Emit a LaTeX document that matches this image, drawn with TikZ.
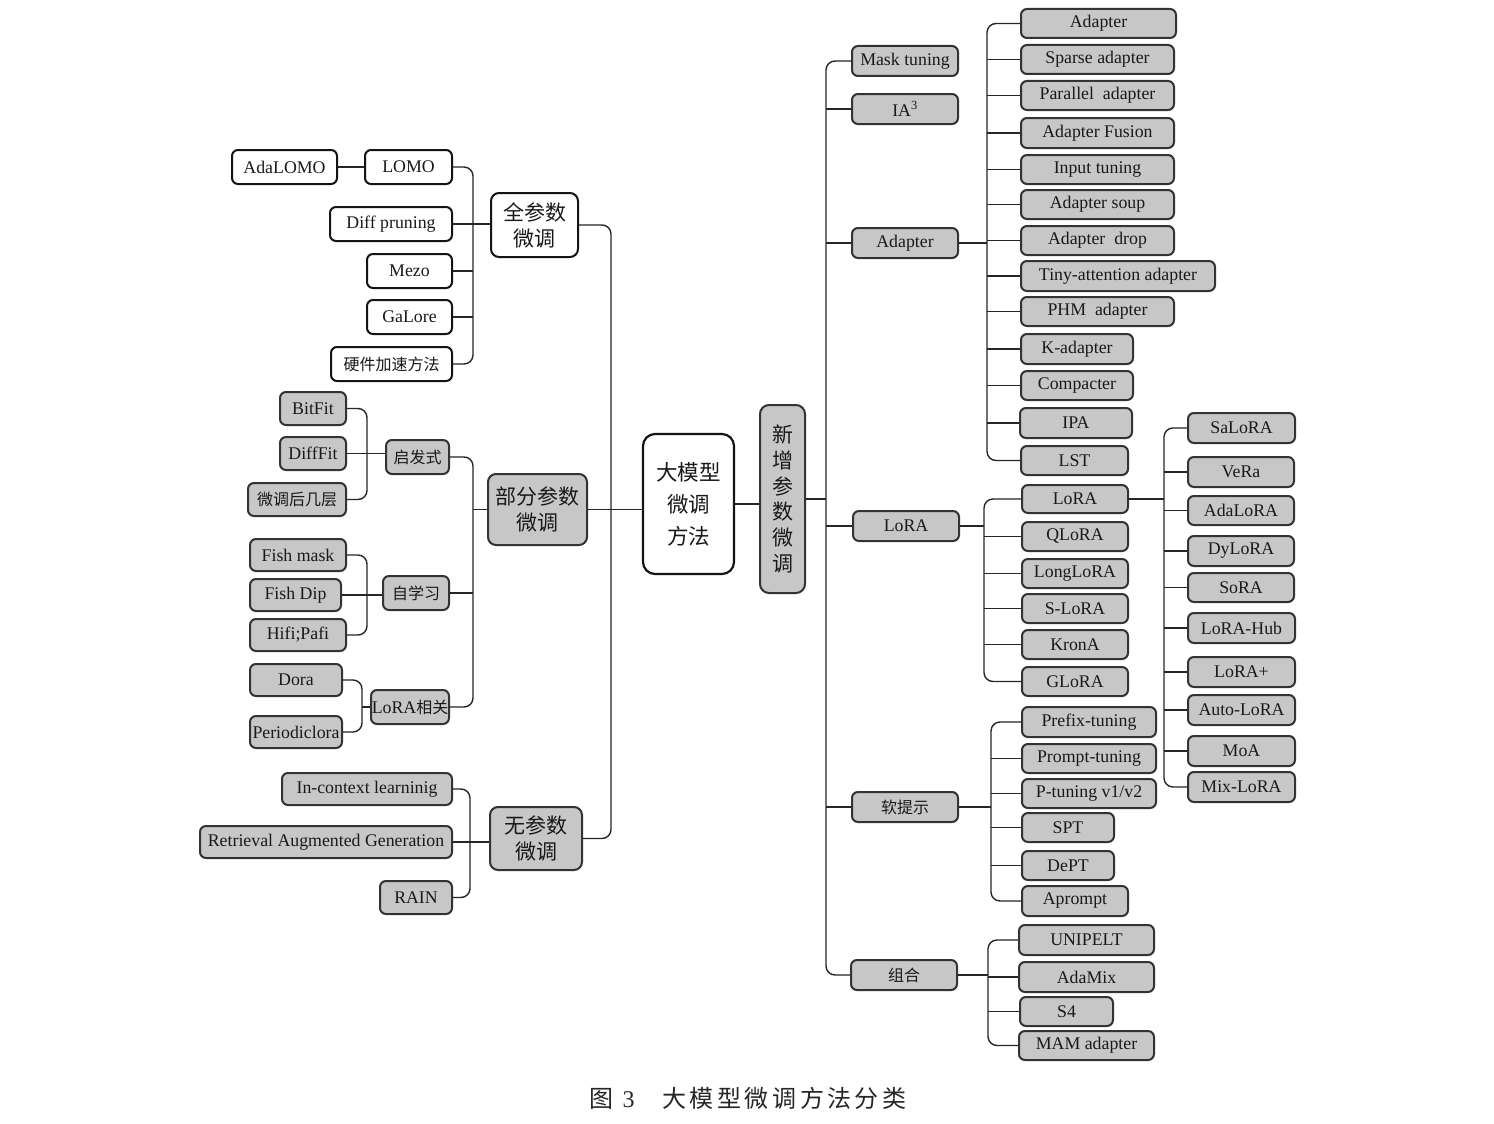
\documentclass[tikz,border=0pt]{standalone}
\usepackage{fontspec}
\setmainfont{Liberation Serif}
\newfontfamily\cjk{Noto Sans CJK SC}
% box from its corner coordinates: style, x1, y1, x2, y2, name, text
\newcommand\bx[7]{\node[#1, minimum width={#4-#2}, minimum height={#5-#3}] (#6) at ({(#2+#4)/2},{(#3+#5)/2}) {#7};}
\newcommand\zhs[1]{{\cjk\fontsize{16}{18}\selectfont #1}}
\begin{document}
\begin{tikzpicture}[x=1pt,y=-1pt,
  box/.style={draw=black!80, line width=2pt, rounded corners=6pt, inner sep=0pt,
    text=black!90, font=\fontsize{17.8}{20}\selectfont},
  wb/.style={box, fill=white, draw=black!92},
  gb/.style={box, fill=black!22},
  big/.style={align=center, font=\cjk\fontsize{21}{26}\selectfont},
  conn/.style={draw=black!85, line width=1.4pt},
  buscurve/.style={conn, rounded corners=9pt}]
\useasboundingbox (0,0) rectangle (1494,1124);
\fill[white] (0,0) rectangle (1494,1124);

% ---------- bus positions ----------
\coordinate (bQ) at (473,0);
\coordinate (bH) at (367,0);
\coordinate (bS) at (367,0);
\coordinate (bL3) at (362,0);
\coordinate (bP) at (473,0);
\coordinate (bW) at (470,0);
\coordinate (bMain) at (611,0);
\coordinate (bR) at (826,0);
\coordinate (bA) at (987,0);
\coordinate (bB) at (984,0);
\coordinate (bC) at (1164,0);
\coordinate (bD) at (991,0);
\coordinate (bE) at (988,0);

% ---------- full-parameter branch ----------
\bx{wb}{232}{150}{337}{184}{adalomo}{AdaLOMO}
\bx{wb}{365}{150}{452}{184}{lomo}{LOMO}
\bx{wb}{330}{207}{452}{241}{diffp}{Diff pruning}
\bx{wb}{367}{254}{452}{288}{mezo}{Mezo}
\bx{wb}{367}{300}{452}{334}{galore}{GaLore}
\bx{wb}{331}{347}{452}{381}{hw}{\zhs{硬件加速方法}}
\bx{wb,big,rounded corners=8pt}{491}{193}{578}{257}{qcs}{全参数\\微调}

\draw[conn] (adalomo) -- (lomo);
\draw[buscurve] (lomo.east) -| (hw.east -| bQ) -- (hw.east);
\draw[conn] (diffp.east) -- (diffp.east -| qcs.west);
\draw[conn] (mezo.east) -- (mezo.east -| bQ);
\draw[conn] (galore.east) -- (galore.east -| bQ);

% ---------- partial-parameter branch ----------
\bx{gb,big,rounded corners=8pt}{488}{474}{587}{545}{bfcs}{部分参数\\微调}
\bx{gb}{386}{440}{449}{474}{qfs}{\zhs{启发式}}
\bx{gb}{280}{392}{346}{425}{bitfit}{BitFit}
\bx{gb}{280}{437}{346}{470}{difffit}{DiffFit}
\bx{gb}{248}{483}{346}{516}{wth}{\zhs{微调后几层}}
\draw[buscurve] (bitfit.east) -| (wth.east -| bH) -- (wth.east);
\draw[conn] (difffit.east) -- (difffit.east -| qfs.west);

\bx{gb}{383}{576}{449}{610}{zxx}{\zhs{自学习}}
\bx{gb}{250}{539}{346}{571}{fmask}{Fish mask}
\bx{gb}{250}{579}{341}{611}{fdip}{Fish Dip}
\bx{gb}{250}{619}{346}{651}{hifi}{Hifi;Pafi}
\draw[buscurve] (fmask.east) -| (hifi.east -| bS) -- (hifi.east);
\draw[conn] (fdip.east) -- (fdip.east -| zxx.west);

\bx{gb}{371}{690}{449}{724}{lorax}{LoRA\zhs{相关}}
\bx{gb}{250}{664}{342}{696}{dora}{Dora}
\bx{gb}{250}{716}{342}{748}{period}{Periodiclora}
\draw[buscurve] (dora.east) -| (period.east -| bL3) -- (period.east);
\draw[conn] (lorax.west) -- (lorax.west -| bL3);

\draw[buscurve] (qfs.east) -| (lorax.east -| bP) -- (lorax.east);
\draw[conn] (zxx.east) -- (zxx.east -| bP);
\draw[conn] (bfcs.west) -- (bfcs.west -| bP);

% ---------- parameter-free branch ----------
\bx{gb,big,rounded corners=8pt}{490}{807}{582}{870}{wcs}{无参数\\微调}
\bx{gb}{282}{773}{452}{805}{icl}{In-context learninig}
\bx{gb}{200}{826}{452}{858}{rag}{Retrieval Augmented Generation}
\bx{gb}{380}{881}{452}{914}{rain}{RAIN}
\draw[buscurve] (icl.east) -| (rain.east -| bW) -- (rain.east);
\draw[conn] (rag.east) -- (rag.east -| wcs.west);

% ---------- root ----------
\bx{wb,line width=2.2pt,rounded corners=12pt,align=center,font=\cjk\fontsize{21.5}{32}\selectfont}{643}{434}{734}{574}{root}{大模型\\微调\\方法}
\bx{gb,rounded corners=9pt,align=center,font=\cjk\fontsize{21}{25.7}\selectfont}{760}{405}{805}{593}{xz}{新\\增\\参\\数\\微\\调}

\draw[buscurve] (qcs.east) -| (wcs.east -| bMain) -- (wcs.east);
\draw[conn] (bfcs.east) -- (bfcs.east -| root.west);
\draw[conn] (root.east) -- (root.east -| xz.west);
\draw[conn] (xz.east) -- (xz.east -| bR);

% ---------- added-parameter branch ----------
\bx{gb}{852}{46}{958}{76}{mask}{Mask tuning}
\bx{gb}{852}{94}{958}{124}{ia}{IA\textsuperscript{3}}
\bx{gb}{852}{228}{958}{258}{adp}{Adapter}
\bx{gb}{853}{511}{959}{541}{lora}{LoRA}
\bx{gb}{852}{792}{958}{822}{soft}{\zhs{软提示}}
\bx{gb}{851}{960}{957}{990}{zh}{\zhs{组合}}
\draw[buscurve] (mask.west) -| (zh.west -| bR) -- (zh.west);
\foreach \n in {ia,adp,lora,soft} \draw[conn] (\n.west) -- (\n.west -| bR);

% adapter family
\bx{gb}{1021}{9}{1176}{38}{a1}{Adapter}
\bx{gb}{1021}{45}{1174}{74}{a2}{Sparse adapter}
\bx{gb}{1021}{81}{1174}{110}{a3}{Parallel\ \ adapter}
\bx{gb}{1021}{118}{1174}{148}{a4}{Adapter Fusion}
\bx{gb}{1021}{155}{1174}{184}{a5}{Input tuning}
\bx{gb}{1021}{190}{1174}{219}{a6}{Adapter soup}
\bx{gb}{1021}{226}{1174}{255}{a7}{Adapter\ \ drop}
\bx{gb}{1021}{261}{1215}{291}{a8}{Tiny-attention adapter}
\bx{gb}{1021}{297}{1174}{326}{a9}{PHM\ \ adapter}
\bx{gb}{1021}{334}{1133}{364}{a10}{K-adapter}
\bx{gb}{1021}{371}{1133}{400}{a11}{Compacter}
\bx{gb}{1020}{408}{1132}{438}{a12}{IPA}
\bx{gb}{1021}{446}{1128}{475}{a13}{LST}
\draw[buscurve] (a1.west) -| (a13.west -| bA) -- (a13.west);
\foreach \n in {a2,a3,a4,a5,a6,a7,a8,a9,a10,a11,a12} \draw[conn] (\n.west) -- (\n.west -| bA);
\draw[conn] (adp.east) -- (adp.east -| bA);

% LoRA family
\bx{gb}{1022}{485}{1128}{513}{l1}{LoRA}
\bx{gb}{1022}{522}{1128}{551}{l2}{QLoRA}
\bx{gb}{1022}{559}{1128}{588}{l3}{LongLoRA}
\bx{gb}{1022}{594}{1128}{623}{l4}{S-LoRA}
\bx{gb}{1022}{630}{1128}{659}{l5}{KronA}
\bx{gb}{1022}{667}{1128}{696}{l6}{GLoRA}
\draw[buscurve] (l1.west) -| (l6.west -| bB) -- (l6.west);
\foreach \n in {l2,l3,l4,l5} \draw[conn] (\n.west) -- (\n.west -| bB);
\draw[conn] (lora.east) -- (lora.east -| bB);

% LoRA variants
\bx{gb}{1188}{413}{1295}{443}{v1}{SaLoRA}
\bx{gb}{1188}{457}{1294}{487}{v2}{VeRa}
\bx{gb}{1188}{496}{1294}{525}{v3}{AdaLoRA}
\bx{gb}{1188}{536}{1294}{566}{v4}{DyLoRA}
\bx{gb}{1188}{573}{1294}{602}{v5}{SoRA}
\bx{gb}{1188}{613}{1295}{643}{v6}{LoRA-Hub}
\bx{gb}{1188}{657}{1295}{687}{v7}{LoRA+}
\bx{gb}{1188}{695}{1295}{725}{v8}{Auto-LoRA}
\bx{gb}{1188}{736}{1295}{766}{v9}{MoA}
\bx{gb}{1188}{772}{1295}{802}{v10}{Mix-LoRA}
\draw[buscurve] (v1.west) -| (v10.west -| bC) -- (v10.west);
\foreach \n in {v2,v3,v4,v5,v6,v7,v8,v9} \draw[conn] (\n.west) -- (\n.west -| bC);
\draw[conn] (l1.east) -- (l1.east -| bC);

% soft prompts
\bx{gb}{1022}{707}{1156}{737}{s1}{Prefix-tuning}
\bx{gb}{1022}{744}{1156}{773}{s2}{Prompt-tuning}
\bx{gb}{1022}{779}{1156}{808}{s3}{P-tuning v1/v2}
\bx{gb}{1022}{813}{1114}{842}{s4}{SPT}
\bx{gb}{1022}{851}{1114}{880}{s5}{DePT}
\bx{gb}{1022}{886}{1128}{916}{s6}{Aprompt}
\draw[buscurve] (s1.west) -| (s6.west -| bD) -- (s6.west);
\foreach \n in {s2,s3,s4,s5} \draw[conn] (\n.west) -- (\n.west -| bD);
\draw[conn] (soft.east) -- (soft.east -| bD);

% combinations
\bx{gb}{1019}{925}{1154}{955}{c1}{UNIPELT}
\bx{gb}{1019}{962}{1154}{992}{c2}{AdaMix}
\bx{gb}{1020}{997}{1113}{1026}{c3}{S4}
\bx{gb}{1019}{1031}{1154}{1060}{c4}{MAM adapter}
\draw[buscurve] (c1.west) -| (c4.west -| bE) -- (c4.west);
\foreach \n in {c2,c3} \draw[conn] (\n.west) -- (\n.west -| bE);
\draw[conn] (zh.east) -- (zh.east -| bE);

% ---------- caption ----------
\node[text=black!85, font=\cjk\fontsize{24}{26}\selectfont] (cap) at (748,1098)
  {图\hspace{9pt}{\rmfamily 3}\hspace{28pt}大\hspace{3.5pt}模\hspace{3.5pt}型\hspace{3.5pt}微\hspace{3.5pt}调\hspace{3.5pt}方\hspace{3.5pt}法\hspace{3.5pt}分\hspace{3.5pt}类};
\end{tikzpicture}
\end{document}
